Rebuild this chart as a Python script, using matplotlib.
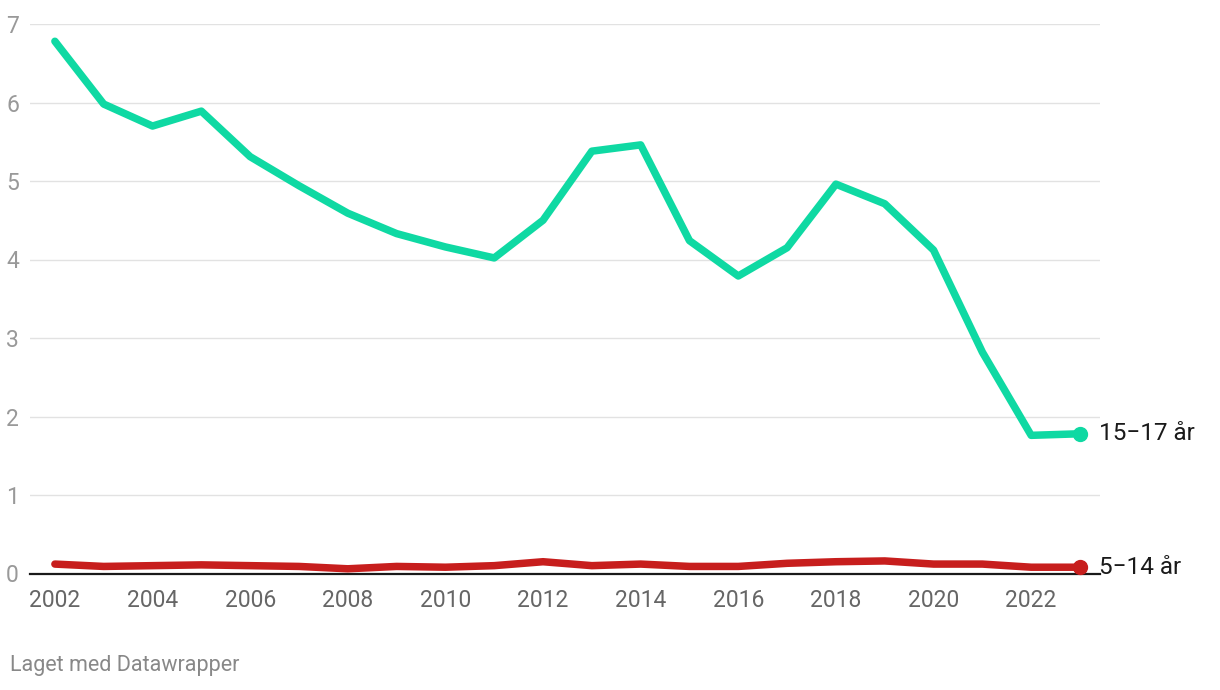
import matplotlib
matplotlib.use("Agg")
import matplotlib.pyplot as plt

plt.rcParams['font.family'] = ['Roboto', 'DejaVu Sans']

years = list(range(2002, 2024))
age_15_17 = [6.78, 5.98, 5.70, 5.89, 5.31, 4.94, 4.59, 4.33, 4.16, 4.02, 4.50,
             5.38, 5.46, 4.24, 3.79, 4.15, 4.96, 4.71, 4.12, 2.82, 1.76, 1.78]
age_5_14 = [0.12, 0.09, 0.10, 0.11, 0.10, 0.09, 0.06, 0.09, 0.08, 0.10, 0.15,
            0.10, 0.12, 0.09, 0.09, 0.13, 0.15, 0.16, 0.12, 0.12, 0.08, 0.08]
labels = ['15\u221217 år', '5\u221214 år']
colors = ['#0fd9a3', '#c71e1d']
yticks = [0, 1, 2, 3, 4, 5, 6, 7]
xticks = list(range(2002, 2024, 2))

fig = plt.figure(figsize=(12.2, 6.9), dpi=100)
ax = fig.add_axes([30 / 1220, (690 - 573.5) / 690, 1070 / 1220, 549.5 / 690])

for vals, col, lab in zip([age_15_17, age_5_14], colors, labels):
    ax.plot(years, vals, color=col, lw=5.4, solid_capstyle='round',
            solid_joinstyle='round', clip_on=False, zorder=3)
    ax.plot(years[-1], vals[-1], 'o', color=col, ms=10, clip_on=False, zorder=4)
    ax.annotate(lab, (years[-1], vals[-1]), xytext=(14, 0), textcoords='offset points',
                va='center', ha='left', fontsize=17.5, color='#1a1a1a',
                annotation_clip=False)

ax.set_xlim(2001.49, 2023.41)
ax.set_ylim(0, 7)
ax.set_yticks(yticks)
ax.set_xticks(xticks)
ax.grid(axis='y', color='#e2e2e2', lw=1)
ax.set_axisbelow(True)
for s in ['top', 'right', 'left']:
    ax.spines[s].set_visible(False)
ax.spines['bottom'].set_color('#1a1a1a')
ax.spines['bottom'].set_linewidth(1.6)
ax.spines['bottom'].set_zorder(2)
ax.tick_params(axis='y', length=0, pad=8, labelsize=16.5, labelcolor='#999999')
ax.tick_params(axis='x', length=0, pad=11, labelsize=16.5, labelcolor='#666666')

fig.text(10 / 1220, 1 - 666 / 690, 'Laget med Datawrapper', fontsize=15.5,
         color='#888888', va='center', ha='left')

fig.savefig('out.png', dpi=100)
